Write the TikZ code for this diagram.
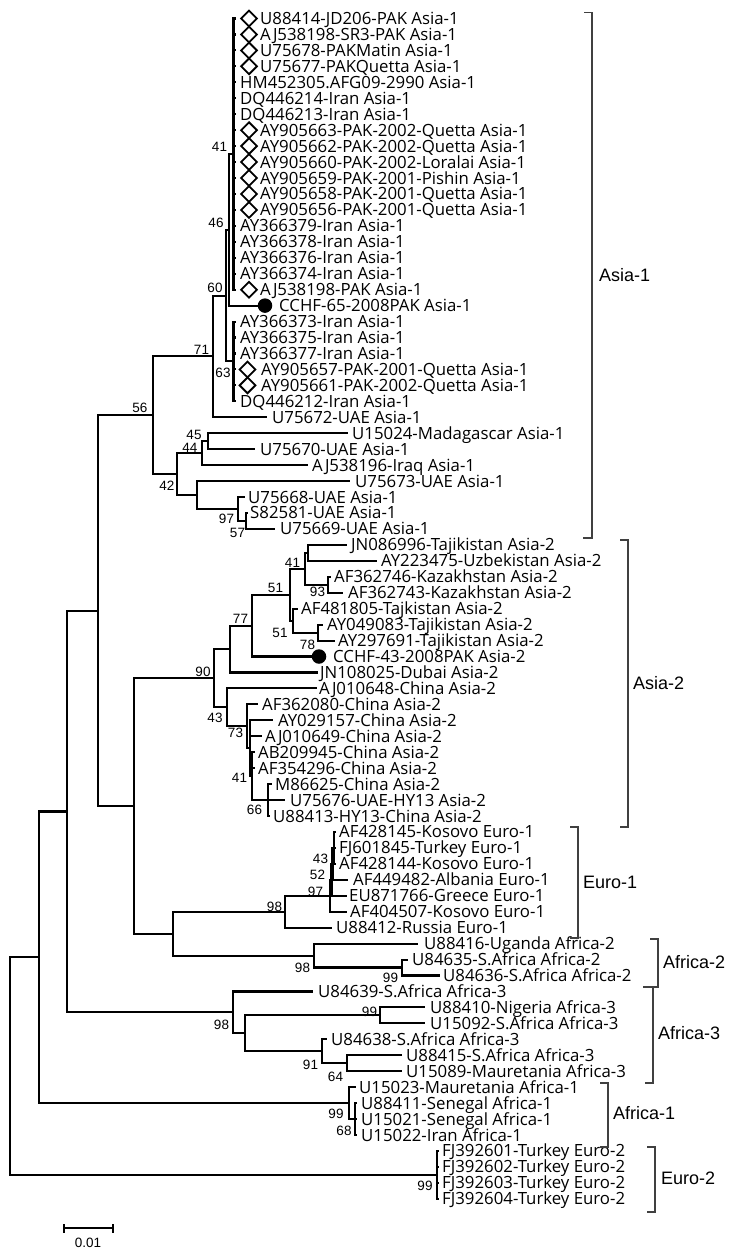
\documentclass[tikz,border=0pt]{standalone}
\usepackage{fontspec}
\setmainfont{Open Sans}
\newfontfamily\arialf{Liberation Sans}
\usetikzlibrary{shapes.geometric}
\begin{document}
\begin{tikzpicture}[x=1pt,y=-1pt,
  declare function={ry(\i)=18.5+(\i-1)*15.95;},
  br/.style={line width=2.1pt,line join=miter},
  leaf/.style={anchor=base west,inner sep=0pt,font=\fontsize{16.8}{18}\selectfont},
  bs/.style={inner sep=0pt,font=\arialf\fontsize{13.5}{14}\selectfont},
  grp/.style={anchor=west,inner sep=0pt,font=\arialf\fontsize{18}{20}\selectfont},
  brk/.style={line width=1.2pt,draw=black!75},
  dmd/.style={diamond,draw,line width=1.8pt,minimum width=16.5pt,minimum height=16.5pt,inner sep=0pt},
  dot/.style={circle,fill,minimum size=14.5pt,inner sep=0pt}]
\useasboundingbox (0,0) rectangle (750,1253);
% internal nodes
\coordinate (R) at (10,1066.1);
\coordinate (N39) at (39,957.3);
\coordinate (NE2) at (437,1174.9);
\coordinate (N67) at (67,811.5);
\coordinate (NAf1) at (349,1103.1);
\coordinate (N68) at (355,1119.05);
\coordinate (N98) at (98,610.6);
\coordinate (NAf3) at (233,1012.4);
\coordinate (N245) at (245,1033.3);
\coordinate (N99b) at (380,1015.4);
\coordinate (N91) at (322,1051.3);
\coordinate (N64) at (347,1063.2);
\coordinate (N56) at (153,415.2);
\coordinate (N134) at (134,805.9);
\coordinate (N71) at (213,356.4);
\coordinate (N60) at (226,295.6);
\coordinate (N46) at (229,229.8);
\coordinate (N41) at (233.5,154.1);
\coordinate (N63) at (233.5,361.4);
\coordinate (N42) at (177,474.1);
\coordinate (N44) at (202,453.1);
\coordinate (N45) at (208,441.2);
\coordinate (N197) at (197,495.0);
\coordinate (N97) at (238,509.0);
\coordinate (N57) at (246,520.9);
\coordinate (N90) at (214,678.2);
\coordinate (N230) at (230,649.0);
\coordinate (N77) at (252,625.6);
\coordinate (N51a) at (290,594.7);
\coordinate (N41a) at (305,568.8);
\coordinate (N308) at (308,552.8);
\coordinate (N93) at (328,584.7);
\coordinate (N51b) at (293,620.6);
\coordinate (N78) at (318,632.6);
\coordinate (N43) at (227,707.3);
\coordinate (N73) at (247,726.3);
\coordinate (NZ) at (250,748.2);
\coordinate (N41b) at (252,776.1);
\coordinate (N66) at (268,800.05);
\coordinate (N173) at (173,933.6);
\coordinate (NE1) at (285,911.7);
\coordinate (N97e) at (330,895.75);
\coordinate (N52) at (331.5,879.8);
\coordinate (N43e) at (332.5,863.85);
\coordinate (NY) at (334,847.9);
\coordinate (NAf2) at (314,955.6);
\coordinate (N99a) at (402,967.5);
% internal branches
\foreach \a/\b in {R/N39,R/NE2,N39/N67,N39/NAf1,N67/N98,N67/NAf3,N98/N56,N98/N134,
  N56/N71,N56/N42,N71/N60,N60/N46,N60/N63,N46/N41,N42/N44,N42/N197,N44/N45,N197/N97,N97/N57,
  N134/N90,N134/N173,N90/N230,N90/N43,N230/N77,N77/N51a,N51a/N41a,N51a/N51b,N41a/N308,N41a/N93,N51b/N78,
  N43/N73,N73/NZ,NZ/N41b,N41b/N66,
  N173/NE1,N173/NAf2,NE1/N97e,N97e/N52,N52/N43e,N43e/NY,NAf2/N99a,
  NAf3/N245,N245/N99b,N245/N91,N91/N64,NAf1/N68}
  \draw[br] (\a) |- (\b);
% leaves
\foreach \i/\pa/\tx/\lx/\lab in {
1/N41/236/260/U88414-JD206-PAK Asia-1,
2/N41/236/260/AJ538198-SR3-PAK Asia-1,
3/N41/236/260/U75678-PAKMatin Asia-1,
4/N41/236/260/U75677-PAKQuetta Asia-1,
5/N41/236/240/HM452305.AFG09-2990 Asia-1,
6/N41/236/240/DQ446214-Iran Asia-1,
7/N41/236/240/DQ446213-Iran Asia-1,
8/N41/236/260/AY905663-PAK-2002-Quetta Asia-1,
9/N41/236/260/AY905662-PAK-2002-Quetta Asia-1,
10/N41/236/260/AY905660-PAK-2002-Loralai Asia-1,
11/N41/236/260/AY905659-PAK-2001-Pishin Asia-1,
12/N41/236/260/AY905658-PAK-2001-Quetta Asia-1,
13/N41/236/260/AY905656-PAK-2001-Quetta Asia-1,
14/N41/236/240/AY366379-Iran Asia-1,
15/N41/236/240/AY366378-Iran Asia-1,
16/N41/236/240/AY366376-Iran Asia-1,
17/N41/236/240/AY366374-Iran Asia-1,
18/N41/236/260/AJ538198-PAK Asia-1,
19/N46/258/279/CCHF-65-2008PAK Asia-1,
20/N63/236/240/AY366373-Iran Asia-1,
21/N63/236/240/AY366375-Iran Asia-1,
22/N63/236/240/AY366377-Iran Asia-1,
23/N63/236/261/AY905657-PAK-2001-Quetta Asia-1,
24/N63/236/261/AY905661-PAK-2002-Quetta Asia-1,
25/N63/236/240/DQ446212-Iran Asia-1,
26/N71/267/272/U75672-UAE Asia-1,
27/N45/348/352/U15024-Madagascar Asia-1,
28/N45/255/260/U75670-UAE Asia-1,
29/N44/308/312/AJ538196-Iraq Asia-1,
30/N197/350/355/U75673-UAE Asia-1,
31/N97/245/248/U75668-UAE Asia-1,
32/N57/248/250/S82581-UAE Asia-1,
33/N57/275/280/U75669-UAE Asia-1,
34/N308/347/351/JN086996-Tajikistan Asia-2,
35/N308/377/381/AY223475-Uzbekistan Asia-2,
36/N93/331/334/AF362746-Kazakhstan Asia-2,
37/N93/343/348/AF362743-Kazakhstan Asia-2,
38/N51b/298/301/AF481805-Tajkistan Asia-2,
39/N78/323/327/AY049083-Tajikistan Asia-2,
40/N78/335/338/AY297691-Tajikistan Asia-2,
41/N77/312/333/CCHF-43-2008PAK Asia-2,
42/N230/318/320/JN108025-Dubai Asia-2,
43/N43/317/319/AJ010648-China Asia-2,
44/N73/258/262/AF362080-China Asia-2,
45/NZ/273/278/AY029157-China Asia-2,
46/NZ/262/265/AJ010649-China Asia-2,
47/N41b/255/258/AB209945-China Asia-2,
48/N41b/255/258/AF354296-China Asia-2,
49/N66/272/275/M86625-China Asia-2,
50/N66/285/290/U75676-UAE-HY13 Asia-2,
51/N66/270/273/U88413-HY13-China Asia-2,
52/NY/336/339/AF428145-Kosovo Euro-1,
53/NY/336/339/FJ601845-Turkey Euro-1,
54/NY/336/339/AF428144-Kosovo Euro-1,
55/N43e/348/353/AF449482-Albania Euro-1,
56/N52/347/349/EU871766-Greece Euro-1,
57/N97e/347/350/AF404507-Kosovo Euro-1,
58/NE1/332/336/U88412-Russia Euro-1,
59/NAf2/418/424/U88416-Uganda Africa-2,
60/N99a/408/412/U84635-S.Africa Africa-2,
61/N99a/440/443/U84636-S.Africa Africa-2,
62/NAf3/313/318/U84639-S.Africa Africa-3,
63/N99b/425/430/U88410-Nigeria Africa-3,
64/N99b/425/430/U15092-S.Africa Africa-3,
65/N91/327/331/U84638-S.Africa Africa-3,
66/N64/402/406/U88415-S.Africa Africa-3,
67/N64/402/406/U15089-Mauretania Africa-3,
68/NAf1/356/359/U15023-Mauretania Africa-1,
69/N68/357/361/U88411-Senegal Africa-1,
70/N68/357/361/U15021-Senegal Africa-1,
71/N68/357/361/U15022-Iran Africa-1,
72/NE2/439/442/FJ392601-Turkey Euro-2,
73/NE2/439/442/FJ392602-Turkey Euro-2,
74/NE2/439/442/FJ392603-Turkey Euro-2,
75/NE2/439/442/FJ392604-Turkey Euro-2}{
  \coordinate (L\i) at (\tx,{ry(\i)});
  \draw[br] (\pa) |- (L\i);
  \node[leaf] (T\i) at (\lx,{ry(\i)+6}) {\lab};
}
% markers
\foreach \i/\cx in {1/249,2/249,3/249,4/249,8/249,9/249,10/249,11/249,12/249,13/249,18/249,23/247.5,24/247.5}
  \node[dmd] (D\i) at (\cx,{ry(\i)}) {};
\node[dot] (C19) at (265,{ry(19)}) {};
\node[dot] (C41) at (319,{ry(41)}) {};
% bootstrap values
\foreach \k/\bx/\by/\v in {1/219.5/147/41,2/216/223/46,3/215/288/60,4/223/373/63,5/201.5/350/71,
  6/140/408/56,7/194/435/45,8/190/448/44,9/167/486/42,10/226.5/519/97,11/237.5/533/57,
  12/292.5/563/41,13/317.5/592/93,14/275.5/588/51,15/280/633/51,16/307.5/645/78,17/240.5/619/77,
  18/203/672/90,19/215/718/43,20/235.5/733/73,21/239.5/778/41,22/254.5/810/66,
  23/320.5/859/43,24/317.5/875/52,25/315.5/892/97,26/274.5/907/98,
  27/302.5/968/98,28/390.5/978/99,29/369.5/1012/99,30/221.5/1025/98,31/310.5/1065/91,32/335.5/1077/64,
  33/336/1114/99,34/344/1131/68,35/425/1186/99}
  \node[bs] (B\k) at (\bx,\by) {\v};
% clade brackets
\draw[brk] (584,12.5) -- (592,12.5) -- (592,538) -- (583,538);
\node[grp] (G1) at (599,275) {Asia-1};
\draw[brk] (620,540) -- (628,540) -- (628,827) -- (620,827);
\node[grp] (G2) at (633,683) {Asia-2};
\draw[brk] (570,827) -- (578,827) -- (578,938) -- (570,938);
\node[grp] (G3) at (583,882) {Euro-1};
\draw[brk] (650,939) -- (658,939) -- (658,987) -- (643,987);
\node[grp] (G4) at (663,962) {Africa-2};
\draw[brk] (653,987) -- (653,1083) -- (645,1083);
\node[grp] (G5) at (658,1033) {Africa-3};
\draw[brk] (600,1083) -- (608,1083) -- (608,1147) -- (600,1147);
\node[grp] (G6) at (613,1113) {Africa-1};
\draw[brk] (647,1147) -- (655,1147) -- (655,1212) -- (647,1212);
\node[grp] (G7) at (661,1178) {Euro-2};
% scale bar
\coordinate (S1) at (64,1228);
\coordinate (S2) at (113,1228);
\draw[line width=1.8pt] (S1) -- (S2);
\draw[line width=1.8pt] ([yshift=-4.5pt]S1) -- ([yshift=4.5pt]S1);
\draw[line width=1.8pt] ([yshift=-4.5pt]S2) -- ([yshift=4.5pt]S2);
\node[bs] (SL) at (88,1243) {0.01};
\end{tikzpicture}
\end{document}
